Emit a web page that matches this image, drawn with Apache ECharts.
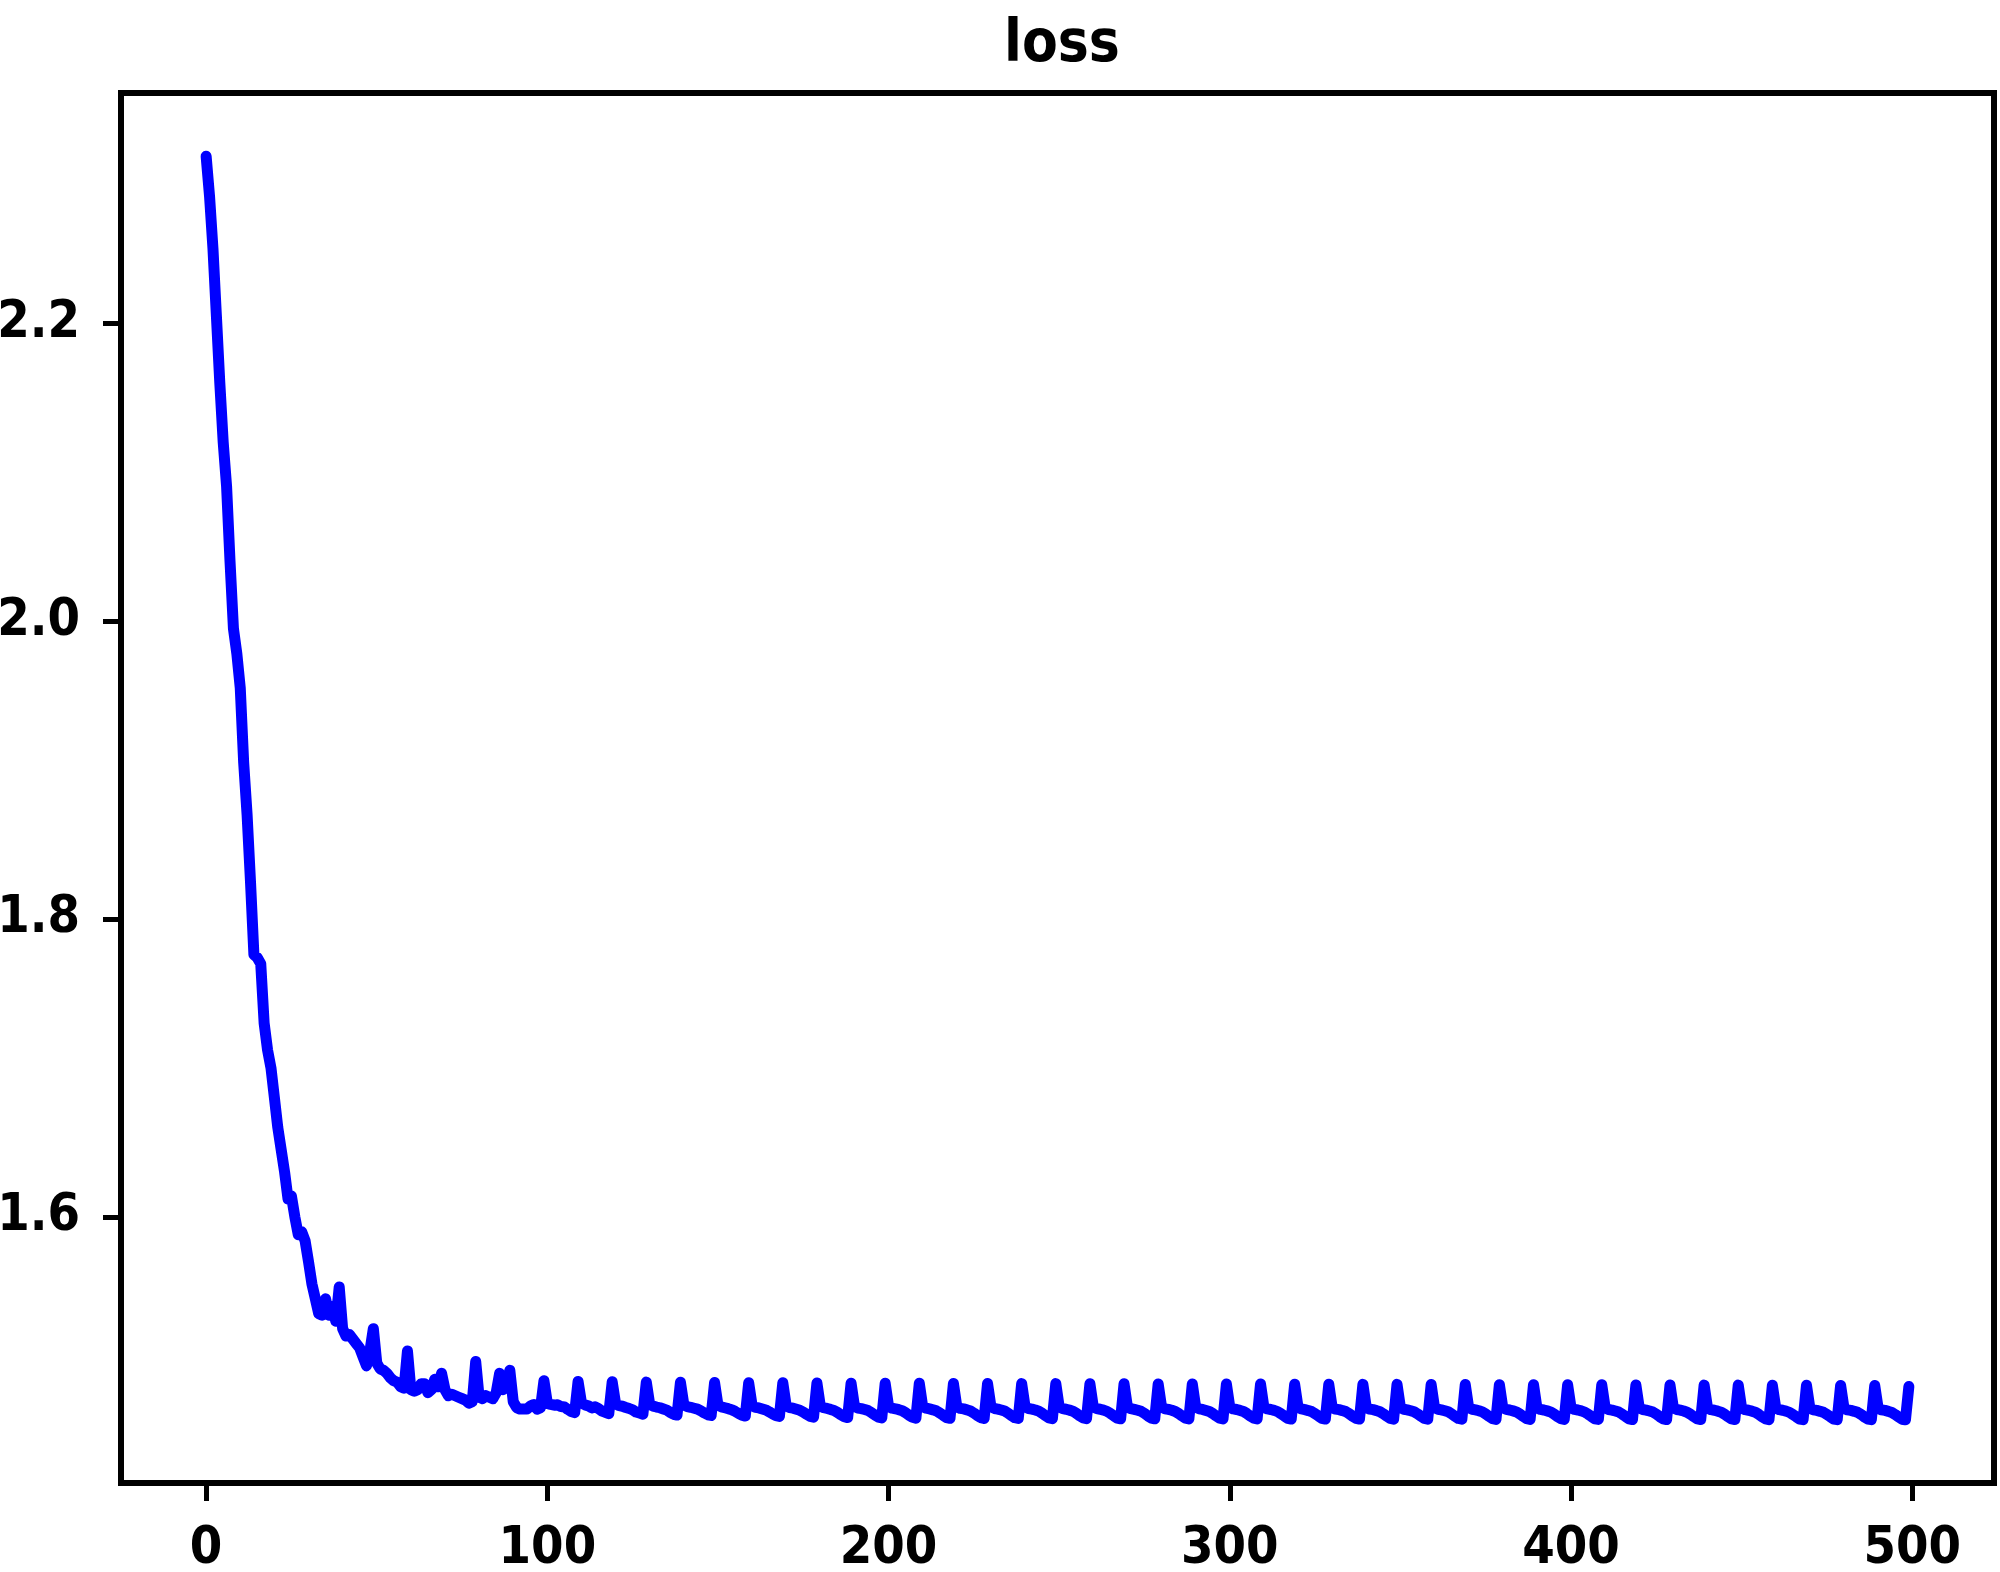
<!DOCTYPE html>
<html>
<head>
<meta charset="utf-8">
<title>loss</title>
<script src="https://cdn.jsdelivr.net/npm/echarts@6/dist/echarts.min.js"></script>
<style>
  html, body { margin: 0; padding: 0; background: #fff; }
  #chart { width: 2000px; height: 1572px; }
</style>
</head>
<body>
<div id="chart"></div>
<script>
// loss per epoch (index = epoch)
const lossWarmup = [
  2.312, 2.285, 2.250, 2.205, 2.160, 2.120, 2.090, 2.040, 1.995, 1.978,
  1.955, 1.905, 1.870, 1.825, 1.776, 1.774, 1.770, 1.730, 1.712, 1.700,
  1.680, 1.660, 1.645, 1.630, 1.612, 1.614, 1.600, 1.588, 1.590, 1.584,
  1.570, 1.555, 1.545, 1.535, 1.534, 1.545, 1.534, 1.540, 1.530, 1.553,
  1.525, 1.520, 1.521, 1.518, 1.515, 1.512, 1.506, 1.500, 1.510, 1.525,
  1.502, 1.498, 1.497, 1.495, 1.492, 1.490, 1.489, 1.486, 1.485, 1.510,
  1.484, 1.483, 1.484, 1.488, 1.488, 1.482, 1.484, 1.491, 1.486, 1.495,
  1.484, 1.480, 1.481, 1.480, 1.479, 1.478, 1.477, 1.475, 1.476, 1.503,
  1.479, 1.478, 1.480, 1.479, 1.478, 1.482, 1.495, 1.484, 1.486, 1.497,
  1.476, 1.472, 1.471, 1.471, 1.471, 1.473, 1.474, 1.471, 1.472, 1.490
];

const lossSteady = [
  1.4748, 1.4741, 1.4736, 1.4739, 1.4727, 1.4724, 1.4708, 1.4694, 1.4686, 1.4896,
  1.4752, 1.4738, 1.4732, 1.4718, 1.4725, 1.4713, 1.4696, 1.4688, 1.4679, 1.4893,
  1.4745, 1.4733, 1.4729, 1.4721, 1.4714, 1.4705, 1.4690, 1.4683, 1.4676, 1.4891,
  1.4741, 1.4730, 1.4724, 1.4719, 1.4711, 1.4703, 1.4688, 1.4675, 1.4670, 1.4890,
  1.4738, 1.4727, 1.4722, 1.4716, 1.4710, 1.4698, 1.4684, 1.4672, 1.4667, 1.4888,
  1.4736, 1.4725, 1.4719, 1.4713, 1.4706, 1.4695, 1.4681, 1.4669, 1.4663, 1.4887,
  1.4734, 1.4722, 1.4718, 1.4711, 1.4704, 1.4692, 1.4678, 1.4666, 1.4661, 1.4887,
  1.4731, 1.4720, 1.4716, 1.4709, 1.4702, 1.4690, 1.4675, 1.4661, 1.4656, 1.4885,
  1.4729, 1.4719, 1.4714, 1.4708, 1.4701, 1.4688, 1.4672, 1.4659, 1.4653, 1.4884,
  1.4728, 1.4717, 1.4713, 1.4707, 1.4700, 1.4686, 1.4670, 1.4656, 1.4651, 1.4884,
  1.4727, 1.4716, 1.4712, 1.4706, 1.4699, 1.4685, 1.4669, 1.4655, 1.4649, 1.4883,
  1.4726, 1.4716, 1.4711, 1.4705, 1.4698, 1.4684, 1.4668, 1.4653, 1.4648, 1.4882,
  1.4725, 1.4715, 1.4711, 1.4705, 1.4697, 1.4683, 1.4667, 1.4653, 1.4647, 1.4882,
  1.4726, 1.4714, 1.4710, 1.4704, 1.4697, 1.4683, 1.4666, 1.4652, 1.4647, 1.4881,
  1.4725, 1.4714, 1.4710, 1.4704, 1.4696, 1.4682, 1.4666, 1.4651, 1.4646, 1.4881,
  1.4724, 1.4713, 1.4709, 1.4703, 1.4696, 1.4682, 1.4665, 1.4651, 1.4646, 1.4880,
  1.4724, 1.4713, 1.4709, 1.4703, 1.4695, 1.4681, 1.4665, 1.4650, 1.4645, 1.4880,
  1.4723, 1.4713, 1.4708, 1.4702, 1.4695, 1.4681, 1.4664, 1.4650, 1.4645, 1.4879,
  1.4723, 1.4712, 1.4708, 1.4702, 1.4694, 1.4680, 1.4664, 1.4649, 1.4644, 1.4879,
  1.4722, 1.4712, 1.4708, 1.4701, 1.4694, 1.4680, 1.4664, 1.4649, 1.4644, 1.4878,
  1.4722, 1.4711, 1.4707, 1.4701, 1.4694, 1.4680, 1.4663, 1.4649, 1.4644, 1.4878,
  1.4721, 1.4711, 1.4707, 1.4701, 1.4693, 1.4679, 1.4663, 1.4648, 1.4643, 1.4877,
  1.4721, 1.4711, 1.4706, 1.4700, 1.4693, 1.4679, 1.4663, 1.4648, 1.4643, 1.4877,
  1.4720, 1.4710, 1.4706, 1.4700, 1.4693, 1.4679, 1.4662, 1.4648, 1.4643, 1.4876,
  1.4720, 1.4710, 1.4706, 1.4700, 1.4692, 1.4678, 1.4662, 1.4647, 1.4642, 1.4876,
  1.4720, 1.4709, 1.4705, 1.4699, 1.4692, 1.4678, 1.4662, 1.4647, 1.4642, 1.4875,
  1.4719, 1.4709, 1.4705, 1.4699, 1.4692, 1.4678, 1.4661, 1.4647, 1.4642, 1.4875,
  1.4719, 1.4709, 1.4705, 1.4699, 1.4691, 1.4677, 1.4661, 1.4646, 1.4641, 1.4874,
  1.4719, 1.4708, 1.4704, 1.4698, 1.4691, 1.4677, 1.4661, 1.4646, 1.4641, 1.4874,
  1.4718, 1.4708, 1.4704, 1.4698, 1.4691, 1.4677, 1.4660, 1.4646, 1.4641, 1.4873,
  1.4718, 1.4708, 1.4704, 1.4698, 1.4690, 1.4676, 1.4660, 1.4645, 1.4641, 1.4873,
  1.4718, 1.4707, 1.4703, 1.4697, 1.4690, 1.4676, 1.4660, 1.4645, 1.4640, 1.4872,
  1.4717, 1.4707, 1.4703, 1.4697, 1.4690, 1.4676, 1.4659, 1.4645, 1.4640, 1.4872,
  1.4717, 1.4707, 1.4703, 1.4697, 1.4689, 1.4675, 1.4659, 1.4644, 1.4640, 1.4871,
  1.4717, 1.4706, 1.4702, 1.4696, 1.4689, 1.4675, 1.4659, 1.4644, 1.4640, 1.4871,
  1.4716, 1.4706, 1.4702, 1.4696, 1.4689, 1.4675, 1.4658, 1.4644, 1.4639, 1.4870,
  1.4716, 1.4706, 1.4702, 1.4696, 1.4688, 1.4674, 1.4658, 1.4643, 1.4639, 1.4870,
  1.4716, 1.4705, 1.4701, 1.4695, 1.4688, 1.4674, 1.4658, 1.4643, 1.4639, 1.4869,
  1.4715, 1.4705, 1.4701, 1.4695, 1.4688, 1.4674, 1.4657, 1.4643, 1.4639, 1.4868,
  1.4715, 1.4705, 1.4701, 1.4695, 1.4687, 1.4673, 1.4657, 1.4642, 1.4638, 1.4862
];

const xTicks = [0, 100, 200, 300, 400, 500];
const yTicks = [1.6, 1.8, 2.0, 2.2];

const loss = lossWarmup.concat(lossSteady);
const seriesData = loss.map((v, i) => [i, v]);

// matplotlib-style 5% margins around the data
const xMaxData = loss.length - 1;
const yMinData = Math.min(...loss);
const yMaxData = Math.max(...loss);
const xPad = xMaxData * 0.05;
const yPad = (yMaxData - yMinData) * 0.05;

const fontFamily = '"DejaVu Sans Condensed", "DejaVu Sans", sans-serif';

const chart = echarts.init(document.getElementById('chart'));

const option = {
  animation: false,
  backgroundColor: '#fff',
  title: {
    text: 'loss',
    left: 1057,
    top: 12,
    textAlign: 'center',
    textStyle: {
      fontFamily: fontFamily,
      fontSize: 58,
      fontWeight: 'bold',
      color: '#000'
    }
  },
  grid: {
    left: 121,
    right: 6,
    top: 93,
    bottom: 89,
    show: true,
    borderColor: '#000',
    borderWidth: 6,
    outerBoundsMode: 'none'
  },
  xAxis: {
    type: 'value',
    min: -xPad,
    max: xMaxData + xPad,
    axisLine: { onZero: false, lineStyle: { color: '#000', width: 6 } },
    axisTick: {
      customValues: xTicks,
      length: 18,
      lineStyle: { color: '#000', width: 5 }
    },
    axisLabel: {
      customValues: xTicks,
      margin: 40,
      fontFamily: fontFamily,
      fontSize: 52,
      fontWeight: 'bold',
      color: '#000',
      lineHeight: 52
    },
    splitLine: { show: false }
  },
  yAxis: {
    type: 'value',
    min: yMinData - yPad,
    max: yMaxData + yPad,
    axisLine: { show: true, onZero: false, lineStyle: { color: '#000', width: 6 } },
    axisTick: {
      show: true,
      customValues: yTicks,
      length: 18,
      lineStyle: { color: '#000', width: 5 }
    },
    axisLabel: {
      customValues: yTicks,
      margin: 41,
      fontFamily: fontFamily,
      fontSize: 52,
      fontWeight: 'bold',
      color: '#000',
      formatter: (v) => v.toFixed(1)
    },
    splitLine: { show: false }
  },
  series: [
    {
      name: 'loss',
      type: 'line',
      data: seriesData,
      showSymbol: false,
      symbol: 'none',
      lineStyle: {
        color: '#0000ff',
        width: 11,
        cap: 'round',
        join: 'round'
      }
    }
  ]
};

chart.setOption(option);
</script>
</body>
</html>
